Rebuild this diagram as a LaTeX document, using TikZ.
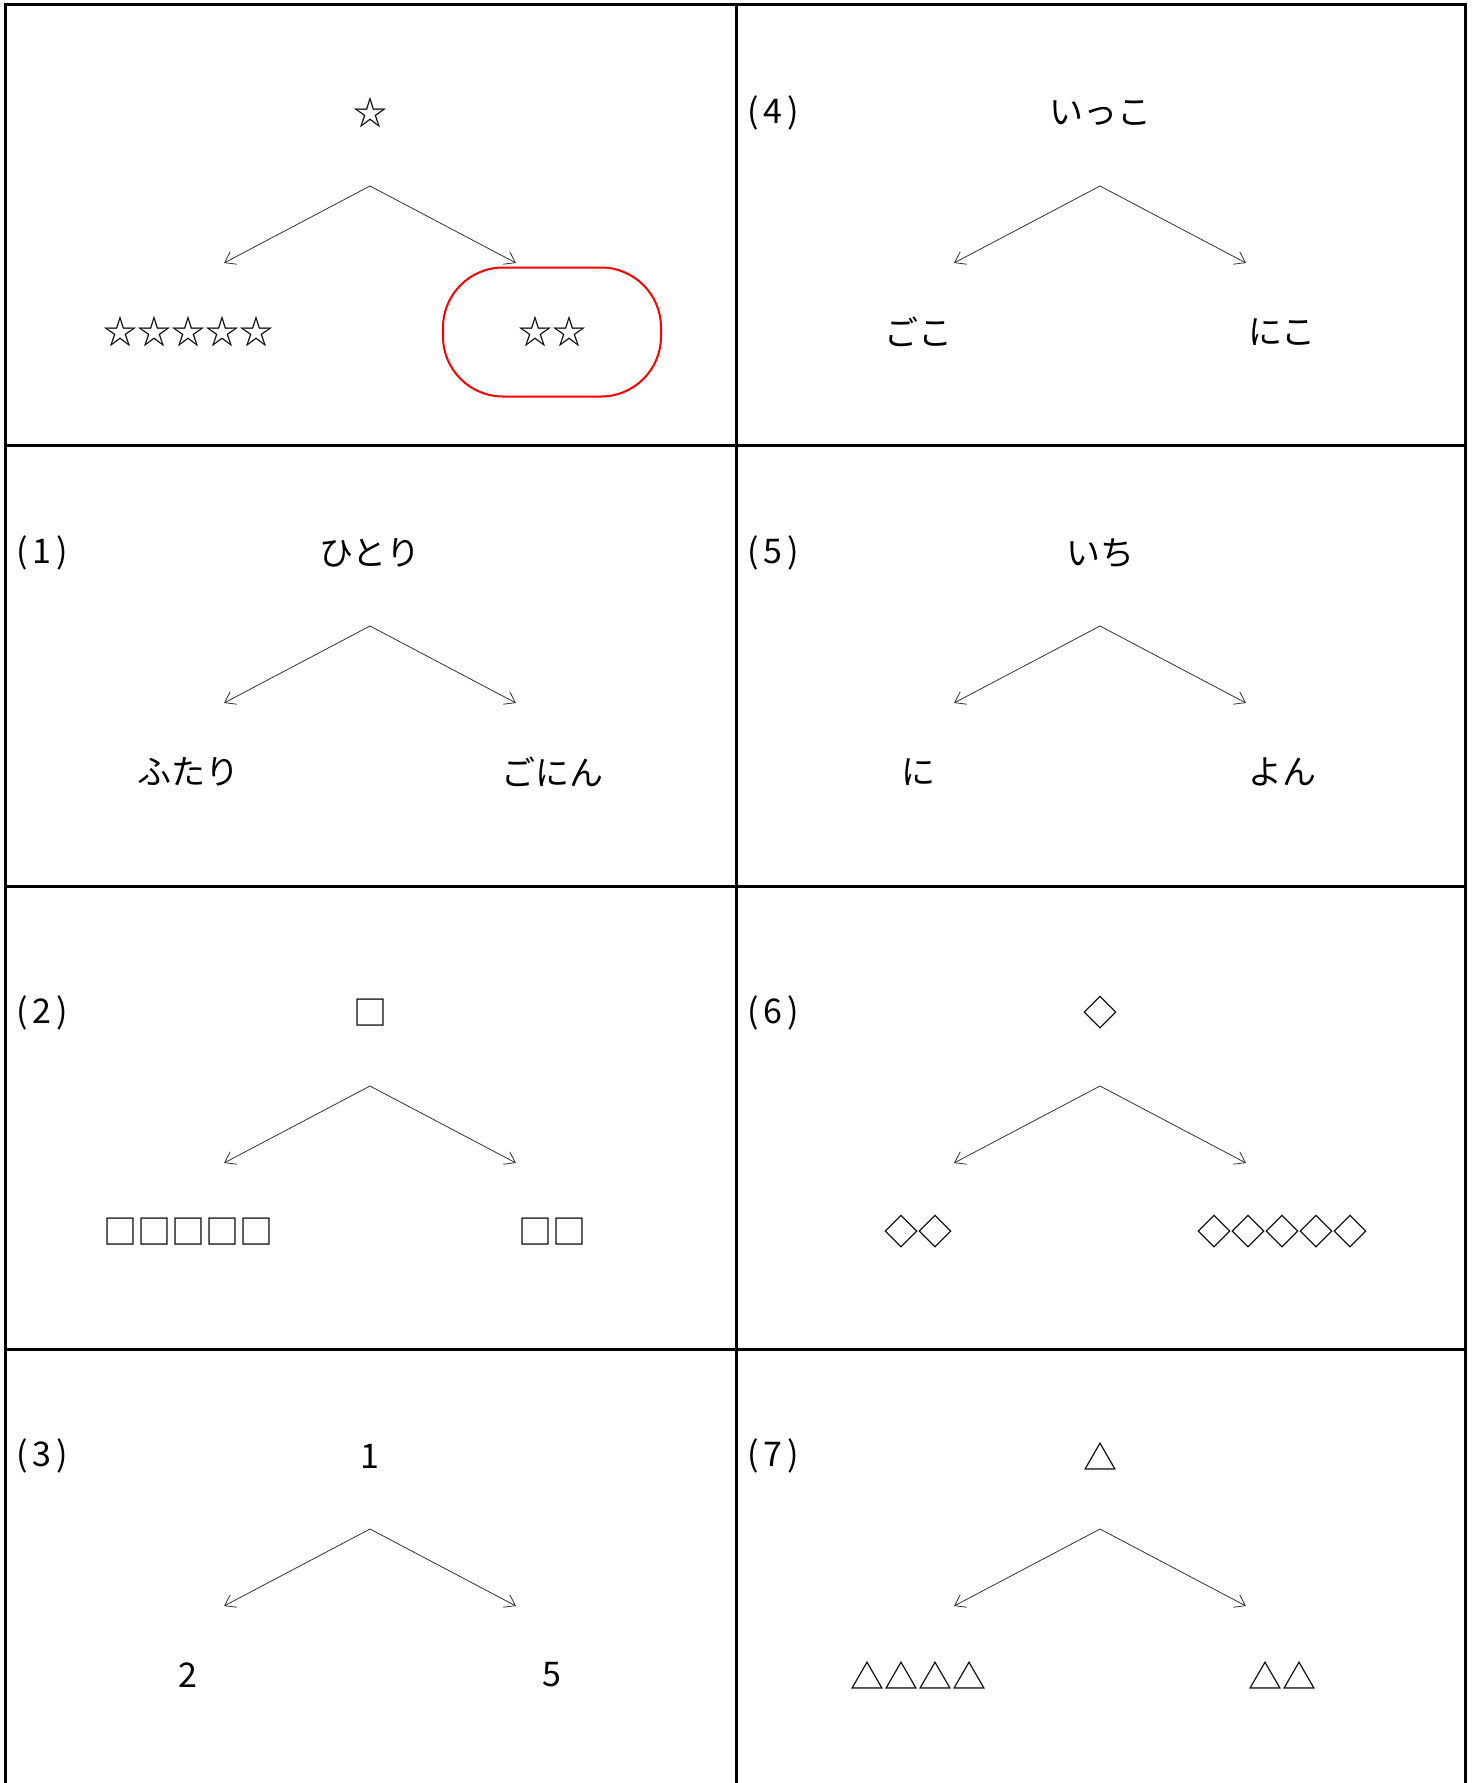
\documentclass[tikz,border=0pt]{standalone}
\usepackage{fontspec}
\setmainfont{Noto Sans CJK JP}
\usetikzlibrary{arrows.meta,positioning}

\newcommand{\qnum}[1]{(\kern2.5pt#1\kern2.5pt)}

\begin{document}
\begin{tikzpicture}[x=0.5pt,y=-0.5pt,
    grid/.style={line width=1.5pt, draw=black},
    word/.style={font=\fontsize{17}{20}\selectfont, inner sep=0pt},
    tag/.style={word, anchor=west},
    split/.style={-{Straight Barb[length=5pt,width=7pt]}, line width=0.4pt, draw=black!80},
    pick/.style={draw=red, line width=1pt, rounded corners=30pt, minimum width=109pt, minimum height=64.5pt}]
    \useasboundingbox (0,0) rectangle (1473,1783);
    % table lines
    \draw[grid] (5.7,1783) -- (5.7,4.5) -- (1465,4.5) -- (1465,1783);
    \draw[grid] (736,4.5) -- (736,1783);
    \foreach \y in {445,886,1349} \draw[grid] (5.7,\y) -- (1465,\y);

    % question numbers
    \foreach \n/\lx/\ty/\lab in {b/747/113/4, c/16/553/1, d/747/553/5,
        e/16/1013/2, f/747/1013/6, g/16/1456/3, h/747/1456/7}
        \node[tag] (num\n) at (\lx,\ty) {\qnum{\lab}};

    % one split per cell
    \foreach \n/\cx/\ty/\tp/\lt/\rt in {
        a/370/113/☆/☆☆☆☆☆/☆☆,
        b/1100/113/いっこ/ごこ/にこ,
        c/370/553/ひとり/ふたり/ごにん,
        d/1100/553/いち/に/よん,
        e/370/1013/□/□□□□□/□□,
        f/1100/1013/◇/◇◇/◇◇◇◇◇,
        g/370/1456/1/2/5,
        h/1100/1456/△/△△△△/△△}
    {
        \node[word] (top\n) at (\cx,\ty) {\tp};
        \coordinate (fork\n) at (\cx,\ty+73);
        \coordinate (tipl\n) at (\cx-146,\ty+150);
        \coordinate (tipr\n) at (\cx+146,\ty+150);
        \node[word] (left\n) at (\cx-182,\ty+219) {\lt};
        \node[word] (right\n) at (\cx+182,\ty+219) {\rt};
        \draw[split] (fork\n) -- (tipl\n);
        \draw[split] (fork\n) -- (tipr\n);
    }

    % the circled answer
    \node[pick] (ring) at (righta) {};
\end{tikzpicture}
\end{document}
